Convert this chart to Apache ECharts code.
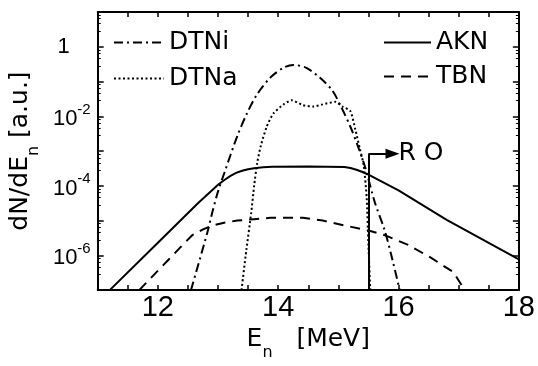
<!DOCTYPE html>
<html>
<head>
<meta charset="utf-8">
<script src="https://cdn.jsdelivr.net/npm/echarts@6/dist/echarts.min.js"></script>
<style>
  html, body { margin: 0; padding: 0; background: #fff; }
  #chart { width: 538px; height: 366px; }
</style>
</head>
<body>
<div id="chart"></div>
<script>
// neutron spectra: energy in MeV, dN/dE in a.u.
var dtniE = [12.55, 12.82, 12.9, 13.0, 13.11, 13.32, 13.48, 13.65, 13.87, 14.09, 14.25, 14.46, 14.69, 14.9, 15.05, 15.2, 15.33, 15.45, 15.6, 15.77, 15.88, 16.02];
var dtniY = [1e-7, 4.4e-6, 1.6e-5, 6.9e-5, 2.5e-4, 2.7e-3, 1.2e-2, 4.3e-2, 0.13, 0.25, 0.30, 0.25, 0.13, 0.055, 0.018, 5.0e-3, 1.3e-3, 3.2e-4, 3.6e-5, 5.2e-6, 1.0e-6, 1e-7];

var dtnaE = [13.39, 13.47, 13.55, 13.6, 13.65, 13.71, 13.81, 13.92, 14.09, 14.22, 14.41, 14.58, 14.74, 14.95, 15.07, 15.2, 15.28, 15.36, 15.42, 15.47, 15.5, 15.53];
var dtnaY = [1e-7, 1.4e-6, 1.6e-5, 1e-4, 4.5e-4, 1.4e-3, 5.1e-3, 1.2e-2, 2.2e-2, 2.9e-2, 2.1e-2, 1.9e-2, 2.2e-2, 2.6e-2, 1.9e-2, 1.4e-2, 4.3e-3, 1.1e-3, 4.0e-4, 4.7e-5, 1.9e-6, 1e-7];

var aknE = [11.2, 12.0, 12.67, 13.0, 13.1, 13.2, 13.3, 13.4, 13.5, 13.6, 13.75, 13.9, 14.5, 15.1, 15.2, 15.3, 15.4, 15.5, 16.0, 16.8, 18.0];
var aknY = [1e-7, 2.3e-6, 3.2e-5, 1.07e-4, 1.45e-4, 1.9e-4, 2.35e-4, 2.7e-4, 3.0e-4, 3.2e-4, 3.4e-4, 3.55e-4, 3.6e-4, 3.5e-4, 3.25e-4, 2.9e-4, 2.5e-4, 2.1e-4, 7.4e-5, 1.05e-5, 7.6e-7];

var tbnE = [11.69, 12.18, 12.57, 12.75, 12.9, 13.1, 13.32, 13.6, 13.87, 14.41, 14.74, 15.11, 15.5, 15.77, 16.16, 16.53, 16.91, 17.1];
var tbnY = [1e-7, 7.6e-7, 3.8e-6, 5.6e-6, 7.1e-6, 8.7e-6, 1.0e-5, 1.1e-5, 1.2e-5, 1.2e-5, 1.0e-5, 7.2e-6, 5.2e-6, 3.8e-6, 2.0e-6, 8.7e-7, 3.3e-7, 1e-7];

// R O marker: cut at 15.5 MeV, arrow to the right
var roE = 15.5;
var roY = 8.3e-4;
var roTipE = 15.9;

var xTicks = [12, 14, 16, 18];

var FONT = '"Liberation Sans", Arial, sans-serif';
var FONT_T = '"DejaVu Sans", sans-serif';

function pairs(xs, ys) {
  return xs.map(function (x, i) { return [x, ys[i]]; });
}

function yLabel(v) {
  var e = Math.round(Math.log(v) / Math.LN10);
  if (e === 0) return '{one|1}';
  if (e > 0 || e % 2 !== 0) return '';
  return '{b|10}{sup|-' + (-e) + '}';
}

function xLabel(v) {
  return xTicks.indexOf(v) >= 0 ? String(v) : '';
}

var chart = echarts.init(document.getElementById('chart'));

function xAx(pos, labels) {
  return {
    type: 'value', position: pos, min: 11, max: 18, interval: 0.5,
    axisLine: { show: true, onZero: false, lineStyle: { color: '#000', width: 2 } },
    axisTick: { show: true, inside: true, length: 5, lineStyle: { color: '#000', width: 1.5 } },
    axisLabel: {
      show: labels, formatter: xLabel, color: '#000', margin: 3,
      fontFamily: '"Liberation Sans Narrow", "Liberation Sans", sans-serif', fontSize: 29,
      showMinLabel: true, showMaxLabel: true
    },
    splitLine: { show: false }
  };
}

function yAx(pos, labels) {
  return {
    type: 'log', logBase: 10, position: pos, min: 1e-7, max: 10, splitNumber: 8,
    axisLine: { show: true, onZero: false, lineStyle: { color: '#000', width: 2 } },
    axisTick: { show: true, inside: true, length: 6, lineStyle: { color: '#000', width: 1.5 } },
    minorTick: { show: true, splitNumber: 5, length: 3, lineStyle: { color: '#000', width: 1 } },
    axisLabel: {
      show: labels, formatter: yLabel, margin: 7,
      rich: {
        b: { fontFamily: FONT, fontSize: 22, color: '#000', lineHeight: 28, verticalAlign: 'bottom' },
        sup: { fontFamily: FONT, fontSize: 15, color: '#000', lineHeight: 15, verticalAlign: 'top' },
        one: { fontFamily: FONT, fontSize: 22, color: '#000', padding: [0, 21, 0, 0] }
      }
    },
    splitLine: { show: false },
    minorSplitLine: { show: false }
  };
}

var xa = xAx('bottom', true);
xa.name = '{b|E}{sub|n}{b|   [MeV]}';
xa.nameLocation = 'middle';
xa.nameGap = 31;
xa.nameTextStyle = {
  rich: {
    b: { fontFamily: FONT_T, fontSize: 25, color: '#000', lineHeight: 34, verticalAlign: 'top' },
    sub: { fontFamily: FONT_T, fontSize: 16, color: '#000', lineHeight: 16, verticalAlign: 'bottom' }
  }
};

var ya = yAx('left', true);
ya.name = '{b|dN/dE}{sub|n}{b| [a.u.]}';
ya.nameLocation = 'middle';
ya.nameRotate = 90;
ya.nameGap = 38;
ya.nameTextStyle = {
  rich: {
    b: { fontFamily: FONT_T, fontSize: 25, color: '#000', lineHeight: 34, verticalAlign: 'top' },
    sub: { fontFamily: FONT_T, fontSize: 16, color: '#000', lineHeight: 16, verticalAlign: 'bottom' }
  }
};

function lineSeries(name, xs, ys, dash, smooth) {
  return {
    name: name, type: 'line', data: pairs(xs, ys),
    xAxisIndex: 0, yAxisIndex: 0,
    symbol: 'none', showSymbol: false,
    smooth: smooth,
    lineStyle: { color: '#000', width: 2, type: dash },
    itemStyle: { color: '#000' }
  };
}

var akn = lineSeries('AKN', aknE, aknY, 'solid', false);
akn.markLine = {
  silent: true,
  symbol: ['none', 'triangle'],
  symbolSize: [10, 14],
  lineStyle: { color: '#000', width: 2, type: 'solid' },
  label: {
    show: true, position: 'end', distance: 6, formatter: 'R O',
    fontFamily: FONT_T, fontSize: 25, color: '#000'
  },
  data: [
    [{ coord: [roE, 1e-7], symbol: 'none' }, { coord: [roE, roY], symbol: 'none', label: { show: false } }],
    [{ coord: [roE, roY] }, { coord: [roTipE, roY] }]
  ]
};

var legendText = { fontFamily: FONT_T, fontSize: 25, color: '#000', lineHeight: 25 };

chart.setOption({
  animation: false,
  backgroundColor: '#fff',
  grid: { left: 88, right: 18, top: 12, bottom: 68 },
  legend: [
    {
      data: ['DTNi', 'DTNa'], orient: 'vertical', left: 113, top: 30, padding: 0,
      itemWidth: 50, itemHeight: 12, itemGap: 11, itemTextGap: 4,
      itemStyle: { opacity: 0 },
      textStyle: legendText
    },
    {
      data: ['AKN', 'TBN'], orient: 'vertical', left: 383, top: 30, padding: 0,
      itemWidth: 47, itemHeight: 12, itemGap: 9, itemTextGap: 5,
      itemStyle: { opacity: 0 },
      textStyle: legendText
    }
  ],
  xAxis: [xa, xAx('top', false)],
  yAxis: [ya, yAx('right', false)],
  series: [
    lineSeries('DTNi', dtniE, dtniY, [9, 4, 2, 4], 0.3),
    lineSeries('DTNa', dtnaE, dtnaY, [2, 2.5], 0.2),
    akn,
    lineSeries('TBN', tbnE, tbnY, [10, 7], false)
  ]
});
</script>
</body>
</html>
